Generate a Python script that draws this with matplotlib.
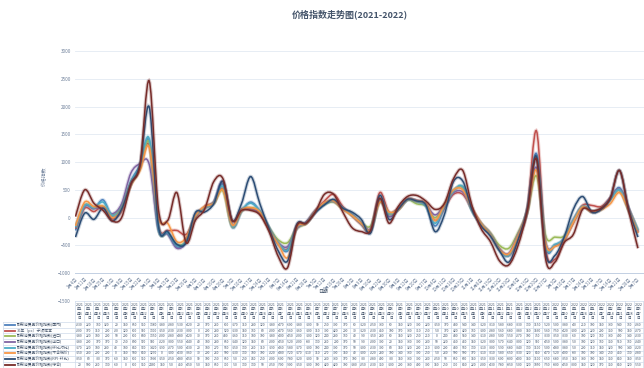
import numpy as np
import pandas as pd
import matplotlib
matplotlib.use('Agg')
import matplotlib.pyplot as plt
import matplotlib.patheffects as pe
from matplotlib.path import Path
from matplotlib.patches import PathPatch

plt.rcParams['font.family'] = ['Noto Sans CJK SC', 'DejaVu Sans']

# weekly categories
dates = pd.date_range('2021-01-04', periods=62, freq='7D')

names = ['耐用消费品价格指数(国内)', '30年（pc）子项样本', '耐用消费品价格指数(进口)',
         '耐用消费品价格指数(出口)', '耐用消费品价格指数(环比对比)', '耐用消费品价格指数(不含税价)',
         '耐用消费品价格指数(RPI-环比)', '耐用消费品价格指数(综合)']
colors = ['#4F81BD', '#C0504D', '#9BBB59', '#8064A2', '#4BACC6', '#F79646', '#2C4D75', '#772C2A']

s_domestic = [-230, 220, 160, 320, 20, 150, 650, 950, 1380, -180, -280, -530, -420, 20, 170, 260,
              600, -170, 110, 280, 120, -180, -470, -600, -180, -100, 90, 250, 300, 170, 60, -120,
              -250, 330, 60, 150, 320, 300, 220, -150, 170, 480, 540, 140, -120, -310, -580, -680,
              -330, 130, 1150, -520, -500, -380, -40, 210, 100, 150, 330, 540, 160, -260]
s_pc30 = [-200, 170, 110, 200, -20, 120, 600, 900, 1300, -150, -230, -230, -300, 0, 200, 280,
          520, -130, 150, 160, 80, -200, -470, -560, -160, -100, 110, 300, 420, 200, 30, -120,
          -230, 450, 100, 170, 330, 310, 250, -50, 170, 420, 420, 160, -100, -280, -560, -680,
          -380, 150, 1560, -560, -750, -420, -100, 220, 220, 200, 350, 500, 150, -270]
s_import = [-180, 220, 180, 200, 50, 200, 600, 880, 1350, -200, -280, -480, -420, 30, 170, 260,
            480, -160, 110, 180, 100, -180, -400, -450, -200, -100, 120, 240, 280, 160, 40, -90,
            -150, 280, 60, 150, 320, 250, 210, 0, 240, 480, 550, 140, -110, -280, -500, -550,
            -270, 100, 750, -330, -350, -330, -60, 190, 120, 160, 330, 490, 140, -230]
s_export = [-180, 200, 170, 170, 70, 250, 800, 970, 960, -220, -300, -550, -440, 40, 180, 280,
            650, -140, 120, 150, 80, -200, -450, -520, -200, -80, 130, 260, 290, 170, 50, -90,
            -200, 300, 20, 150, 330, 300, 230, 50, 220, 450, 460, 150, -120, -300, -570, -640,
            -300, 120, 900, -450, -500, -380, -50, 190, 120, 160, 350, 510, 160, -240]
s_mom = [-170, 220, 180, 280, 40, 180, 640, 930, 1420, -190, -270, -500, -430, 20, 180, 270,
         560, -150, 130, 260, 110, -190, -460, -580, -170, -100, 100, 240, 300, 170, 50, -100,
         -230, 300, 80, 150, 320, 290, 210, -100, 200, 480, 560, 130, -110, -300, -590, -680,
         -340, 130, 1100, -500, -480, -380, -50, 200, 110, 150, 320, 500, 140, -220]
s_notax = [-150, 280, 200, 200, 0, 150, 580, 850, 1270, 0, -100, -430, -360, 30, 200, 260,
           500, -130, 130, 180, 100, -220, -480, -720, -170, -110, 110, 270, 300, 150, 40, -100,
           -220, 280, 100, 140, 330, 300, 250, -50, 230, 500, 500, 170, -110, -310, -580, -650,
           -330, 120, 850, -470, -520, -400, -80, 190, 100, 140, 250, 450, 130, -280]
s_rpi = [-350, 80, -30, 170, -60, 150, 600, 950, 1990, -150, -250, -480, -450, 90, 100, 250,
         650, -50, 250, 740, 250, -200, -600, -780, -120, -100, 90, 230, 330, 170, 100, -30,
         -280, 400, -30, 150, 330, 300, 230, -250, 50, 650, 660, 150, -150, -330, -600, -800,
         -400, 150, 1100, -650, -680, -350, 150, 380, 100, 150, 350, 850, 150, -350]
s_total = [20, 500, 260, 130, -60, 0, 600, 950, 2460, 150, -50, 450, -450, -50, 150, 650,
           700, -50, 130, 130, 50, -250, -700, -900, -150, -100, 100, 420, 420, 100, -180, -250,
           -230, 350, -100, 200, 380, 400, 300, 150, 250, 700, 850, 220, -200, -430, -780, -850,
           -500, 120, 1050, -750, -800, -450, -300, 150, 120, 170, 350, 850, 120, -550]

series = [s_domestic, s_pc30, s_import, s_export, s_mom, s_notax, s_rpi, s_total]

W, H = 644, 368
fig = plt.figure(figsize=(W / 100, H / 100), dpi=100)
fig.patch.set_facecolor('white')

# plot area in pixels: x 75..644, y 51 (3000) .. 301 (-1500)
ax = fig.add_axes([75 / W, 1 - 301 / H, (W - 75) / W, 250 / H])
ax.set_ylim(-1500, 3000)
ax.set_xlim(-0.05, 61.66)
ax.set_yticks(range(-1500, 3001, 500))
ax.set_xticks([])
ax.tick_params(axis='y', length=0, pad=3, labelsize=3.3, labelcolor='#6d7f99')
for sp in ax.spines.values():
    sp.set_visible(False)
ax.grid(axis='y', color='#e3eaf3', lw=0.6)
ax.set_axisbelow(True)
ax.axhline(-1000, color='#c3d1e3', lw=0.7, zorder=1)


def smooth_path(x, y):
    verts = [(x[0], y[0])]
    codes = [Path.MOVETO]
    n = len(x)
    for i in range(n - 1):
        xp, yp = (x[i - 1], y[i - 1]) if i > 0 else (x[i], y[i])
        xn, yn = (x[i + 2], y[i + 2]) if i + 2 < n else (x[i + 1], y[i + 1])
        c1 = (x[i] + (x[i + 1] - xp) / 6, y[i] + (y[i + 1] - yp) / 6)
        c2 = (x[i + 1] - (xn - x[i]) / 6, y[i + 1] - (yn - y[i]) / 6)
        verts += [c1, c2, (x[i + 1], y[i + 1])]
        codes += [Path.CURVE4] * 3
    return Path(verts, codes)


xs = np.arange(len(dates))
for vals, c in zip(series, colors):
    patch = PathPatch(smooth_path(xs, vals), fill=False, edgecolor=c, lw=1.1, zorder=3,
                      path_effects=[pe.Stroke(linewidth=2.6, foreground=c, alpha=0.25), pe.Normal()])
    ax.add_patch(patch)

# category labels beside the horizontal axis (crosses at -1000)
for i, d in enumerate(dates):
    ax.text(i, -1060, f'{d.month}月{d.day}日', rotation=45, rotation_mode='anchor',
            ha='right', va='top', fontsize=3.1, color='#6d7f99')

ax.set_ylabel('价格指数', fontsize=3.5, color='#6d7f99', labelpad=8)
fig.text(323 / W, 1 - 291 / H, '日期', fontsize=3.5, color='#44546a', ha='center', va='center')
fig.text(350 / W, 1 - 14 / H, '价格指数走势图(2021-2022)', fontsize=6.5, fontweight='bold',
         color='#44546a', ha='center', va='center')

# data table drawn in pixel coordinates
tab = fig.add_axes([0, 0, 1, 1])
tab.set_xlim(0, W)
tab.set_ylim(H, 0)
tab.axis('off')
tab.patch.set_alpha(0)

n = len(dates)
x0 = 75
cw = (W - 1 - x0) / n
top, hh, rh = 301, 21, 5.7
line_c = '#cfdbea'
n_rows = len(series)
bottom = top + hh + rh * n_rows
for j in range(n + 1):
    tab.plot([x0 + cw * j] * 2, [top, bottom], color=line_c, lw=0.5)
tab.plot([x0, x0 + cw * n], [top, top], color=line_c, lw=0.5)
tab.plot([3, 3], [top + hh, bottom], color=line_c, lw=0.5)
for k in range(n_rows + 1):
    yk = top + hh + rh * k
    tab.plot([3, x0 + cw * n], [yk, yk], color=line_c, lw=0.5)

for j, d in enumerate(dates):
    tab.text(x0 + cw * (j + 0.5), top + hh / 2, f'{d.year}\n年{d.month}\n月{d.day}\n日',
             fontsize=2.6, ha='center', va='center', linespacing=1.15, color='#44546a')

for k, (vals, nm, c) in enumerate(zip(series, names, colors)):
    yc = top + hh + rh * (k + 0.5)
    tab.plot([5, 15], [yc, yc], color=c, lw=1.3)
    tab.text(17, yc, nm, fontsize=2.8, ha='left', va='center', color='#44546a')
    for j, v in enumerate(vals):
        tab.text(x0 + cw * (j + 0.5), yc, str(v), fontsize=2.4, ha='center', va='center',
                 color='#44546a')

fig.savefig('out.png', dpi=100, facecolor='white')
plt.close(fig)
